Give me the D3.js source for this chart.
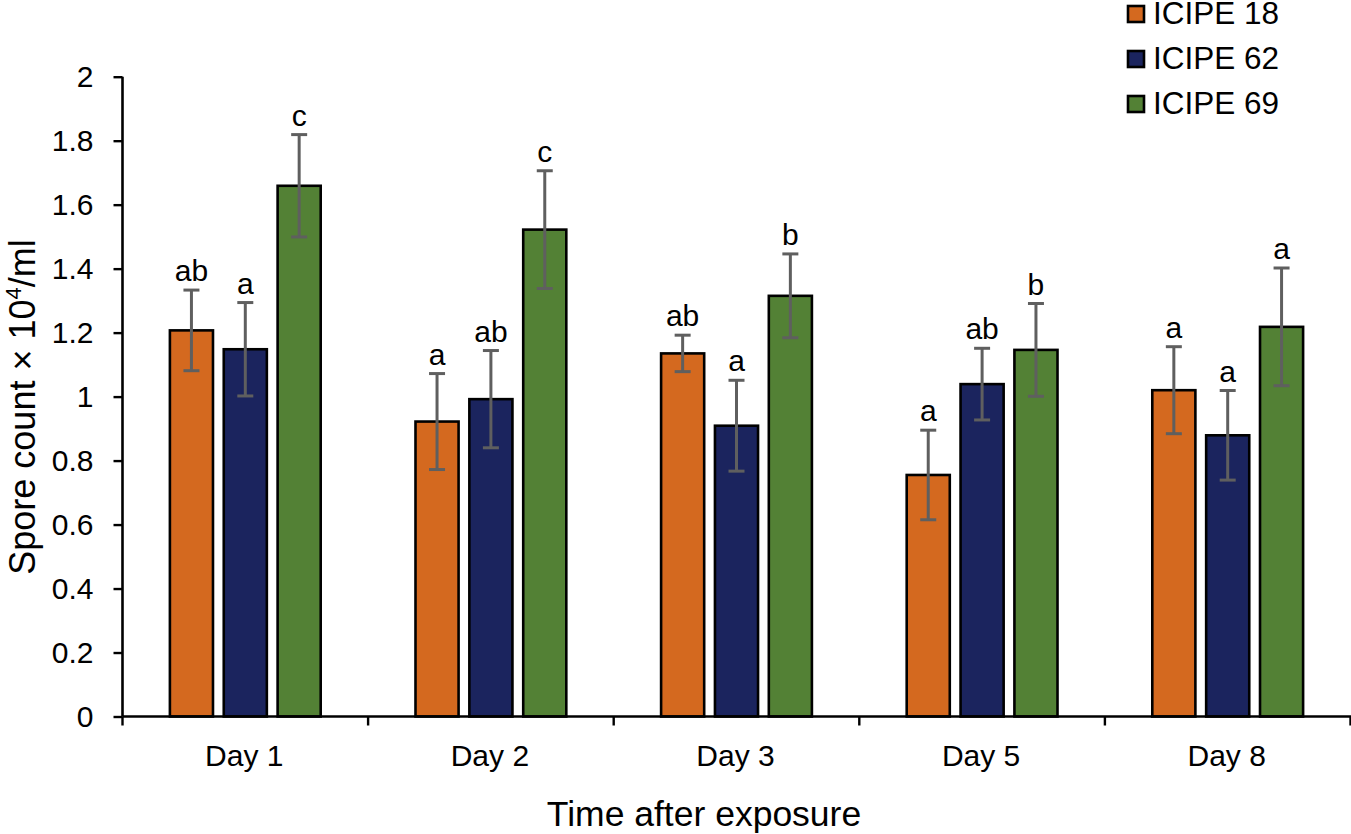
<!DOCTYPE html>
<html>
<head>
<meta charset="utf-8">
<script src="https://cdn.jsdelivr.net/npm/d3@7"></script>
<style>
  html, body { margin: 0; padding: 0; background: #fff; }
  svg { display: block; font-family: "Liberation Sans", Arial, sans-serif; }
</style>
</head>
<body>
<svg id="chart" width="1351" height="834"></svg>
<script>
const categories = ["Day 1", "Day 2", "Day 3", "Day 5", "Day 8"];
const series = ["ICIPE 18", "ICIPE 62", "ICIPE 69"];
const seriesColors = ["#D4691F", "#1B245E", "#538135"];
const meanICIPE18 = [1.207, 0.922, 1.135, 0.755, 1.020];
const meanICIPE62 = [1.148, 0.992, 0.909, 1.039, 0.879];
const meanICIPE69 = [1.659, 1.522, 1.315, 1.146, 1.218];
const errICIPE18 = [0.126, 0.150, 0.057, 0.140, 0.136];
const errICIPE62 = [0.146, 0.152, 0.142, 0.112, 0.140];
const errICIPE69 = [0.160, 0.184, 0.131, 0.145, 0.184];
const lettersICIPE18 = ["ab", "a", "ab", "a", "a"];
const lettersICIPE62 = ["a", "ab", "a", "ab", "a"];
const lettersICIPE69 = ["c", "c", "b", "b", "a"];
const yTicks = [0, 0.2, 0.4, 0.6, 0.8, 1, 1.2, 1.4, 1.6, 1.8, 2];
const yTitle = "Spore count × 10";
const xTitle = "Time after exposure";

const means = [meanICIPE18, meanICIPE62, meanICIPE69];
const errs = [errICIPE18, errICIPE62, errICIPE69];
const letters = [lettersICIPE18, lettersICIPE62, lettersICIPE69];

const data = [];
categories.forEach((c, i) => {
  series.forEach((s, j) => {
    data.push({ cat: c, ser: s, v: means[j][i], e: errs[j][i], l: letters[j][i] });
  });
});

const svg = d3.select("#chart");
const pLeft = 122.5, pRight = 1350.5, pTop = 76.7, pBottom = 716.5;

const y = d3.scaleLinear().domain([0, 2]).range([pBottom, pTop]);
const x0 = d3.scaleBand().domain(categories).range([pLeft, pRight]).padding(0);
const x1 = d3.scaleBand().domain(series).range([0, x0.bandwidth()]).paddingInner(0.2).paddingOuter(0.88);
const color = d3.scaleOrdinal().domain(series).range(seriesColors);
const cx = d => x0(d.cat) + x1(d.ser) + x1.bandwidth() / 2;

// bars
const g = svg.append("g");
g.selectAll("rect.bar").data(data).join("rect")
  .attr("class", "bar")
  .attr("x", d => x0(d.cat) + x1(d.ser))
  .attr("y", d => y(d.v))
  .attr("width", x1.bandwidth())
  .attr("height", d => y(0) - y(d.v))
  .attr("fill", d => color(d.ser))
  .attr("stroke", "#000")
  .attr("stroke-width", 2.6);

// error bars
const capW = 16;
const eb = g.selectAll("g.err").data(data).join("g").attr("class", "err")
  .attr("stroke", "#5F5F5F").attr("stroke-width", 3);
eb.append("line")
  .attr("x1", cx).attr("x2", cx)
  .attr("y1", d => y(d.v + d.e))
  .attr("y2", d => y(d.v - d.e));
eb.append("line")
  .attr("x1", d => cx(d) - capW / 2).attr("x2", d => cx(d) + capW / 2)
  .attr("y1", d => y(d.v + d.e)).attr("y2", d => y(d.v + d.e));
eb.append("line")
  .attr("x1", d => cx(d) - capW / 2).attr("x2", d => cx(d) + capW / 2)
  .attr("y1", d => y(d.v - d.e)).attr("y2", d => y(d.v - d.e));

// letters
g.selectAll("text.letter").data(data).join("text")
  .attr("class", "letter")
  .attr("x", cx)
  .attr("y", d => y(d.v + d.e) - 9)
  .attr("text-anchor", "middle")
  .attr("font-size", 30)
  .attr("fill", "#000")
  .text(d => d.l);

// y axis
const yAxis = d3.axisLeft(y).tickValues(yTicks).tickSize(9).tickPadding(20)
  .tickFormat(d => d3.format("~g")(d));
const ya = svg.append("g").attr("transform", `translate(${pLeft},0)`).call(yAxis);
ya.select(".domain").attr("stroke", "#000").attr("stroke-width", 2.6).attr("d", `M0,${pTop}V${pBottom}`);
ya.selectAll(".tick line").attr("stroke", "#000").attr("stroke-width", 2.4);
ya.selectAll(".tick text").attr("font-size", 30).attr("fill", "#000")
  .attr("font-family", "Liberation Sans, Arial, sans-serif");

// x axis: line + boundary ticks + centered labels
const xa = svg.append("g").attr("transform", `translate(0,${pBottom})`);
xa.append("line").attr("x1", pLeft).attr("x2", pRight + 1).attr("y1", 0).attr("y2", 0)
  .attr("stroke", "#000").attr("stroke-width", 2.6);
const bounds = categories.map(c => x0(c)).concat([x0(categories[categories.length - 1]) + x0.bandwidth()]);
xa.selectAll("line.xt").data(bounds).join("line").attr("class", "xt")
  .attr("x1", d => d).attr("x2", d => d).attr("y1", 0).attr("y2", 9)
  .attr("stroke", "#000").attr("stroke-width", 2.4);
xa.selectAll("text.xl").data(categories).join("text").attr("class", "xl")
  .attr("x", d => x0(d) + x0.bandwidth() / 2 - 1)
  .attr("y", 49)
  .attr("text-anchor", "middle")
  .attr("font-size", 30)
  .attr("fill", "#000")
  .text(d => d);

// axis titles
svg.append("text")
  .attr("x", 704)
  .attr("y", 826)
  .attr("text-anchor", "middle")
  .attr("font-size", 35.5)
  .attr("fill", "#000")
  .text(xTitle);

const yt = svg.append("text")
  .attr("transform", `translate(35,407) rotate(-90)`)
  .attr("text-anchor", "middle")
  .attr("font-size", 36)
  .attr("fill", "#000");
yt.append("tspan").text(yTitle);
yt.append("tspan").attr("font-size", 22).attr("dy", -14).text("4");
yt.append("tspan").attr("dy", 14).text("/ml");

// legend
const lg = svg.append("g").selectAll("g").data(series).join("g")
  .attr("transform", (d, i) => `translate(1128,${i * 45})`);
lg.append("rect").attr("x", 0).attr("y", 6).attr("width", 16).attr("height", 16)
  .attr("fill", d => color(d)).attr("stroke", "#000").attr("stroke-width", 2.6);
lg.append("text").attr("x", 25).attr("y", 24).attr("font-size", 31.5).attr("fill", "#000").text(d => d);
</script>
</body>
</html>
